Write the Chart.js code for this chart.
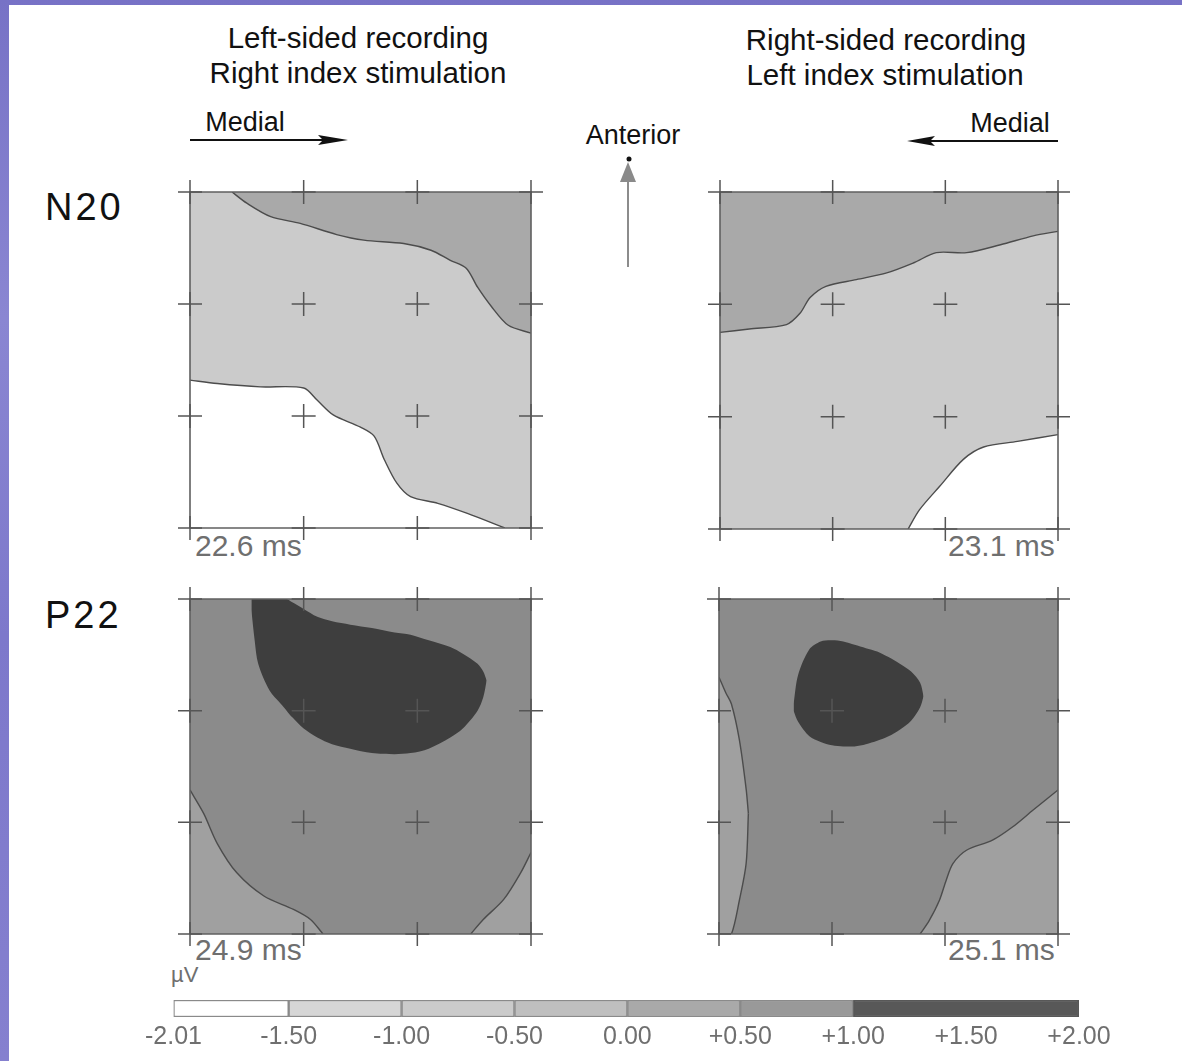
<!DOCTYPE html>
<html>
<head>
<meta charset="utf-8">
<script src="https://cdn.jsdelivr.net/npm/chart.js@4.4.0/dist/chart.umd.min.js"></script>
<style>
  body { margin: 0; width: 1182px; height: 1061px; position: relative; overflow: hidden;
         background: linear-gradient(180deg, #7772c6 0%, #8a86d2 30%, #7d78cb 60%, #8580cf 100%);
         font-family: 'Liberation Sans', Arial, sans-serif; color: #111; }
  #sheet { position: absolute; left: 9px; top: 5px; right: 0; bottom: 0; background: #fff; }
  .t { position: absolute; white-space: nowrap; line-height: 1; }
  .c { transform: translate(-50%, -50%); }
  .head { font-size: 29.5px; }
  .dir { font-size: 27px; }
  .comp { font-size: 38px; letter-spacing: 3px; transform: translateY(-50%); }
  .ms { font-size: 30px; color: #6f6f6f; transform: translateY(-50%); }
  canvas { position: absolute; }
  svg { position: absolute; left: 0; top: 0; }
</style>
</head>
<body>
<div id="sheet"></div>

<div class="t c head" style="left:358px;top:38px">Left-sided recording</div>
<div class="t c head" style="left:358px;top:73px">Right index stimulation</div>
<div class="t c head" style="left:886px;top:40px">Right-sided recording</div>
<div class="t c head" style="left:885px;top:75px">Left index stimulation</div>
<div class="t c dir" style="left:245px;top:122px">Medial</div>
<div class="t c dir" style="left:1010px;top:123px">Medial</div>
<div class="t c dir" style="left:633px;top:135px">Anterior</div>
<div class="t comp" style="left:45px;top:207px">N20</div>
<div class="t comp" style="left:45px;top:615px">P22</div>
<div class="t ms" style="left:195px;top:546px">22.6 ms</div>
<div class="t ms" style="left:948px;top:546px">23.1 ms</div>
<div class="t ms" style="left:195px;top:950px">24.9 ms</div>
<div class="t ms" style="left:948px;top:950px">25.1 ms</div>
<div class="t ms" style="left:171px;top:975px;font-size:22px">µV</div>

<svg width="1182" height="1061">
  <line x1="190" y1="140" x2="330" y2="140" stroke="#111" stroke-width="2"/>
  <polygon points="318,135 348,140 318,145 323,140" fill="#111"/>
  <line x1="1058" y1="141" x2="925" y2="141" stroke="#111" stroke-width="2"/>
  <polygon points="935,136 907,141 935,146 930,141" fill="#111"/>
  <line x1="628" y1="267" x2="628" y2="178" stroke="#8c8c8c" stroke-width="2"/>
  <polygon points="620,182 628,162 636,182" fill="#8a8a8a"/>
  <circle cx="629" cy="159" r="2.5" fill="#111"/>
</svg>

<canvas id="n20L"></canvas>
<canvas id="n20R"></canvas>
<canvas id="p22L"></canvas>
<canvas id="p22R"></canvas>
<canvas id="scale"></canvas>

<script>
// electrode grid (3 x 3 cells, units of electrode spacing)
const gridX = [0, 1, 2, 3];
const gridY = [0, 1, 2, 3];
const frameX = [0, 3, 3, 0, 0];
const frameY = [0, 0, 3, 3, 0];

// N20, left-sided recording: contour lines
const n20LeftTopX = [0.37, 0.50, 0.71, 0.97, 1.29, 1.53, 1.88, 2.12, 2.29, 2.43, 2.53, 2.65, 2.80, 3.0];
const n20LeftTopY = [3.0, 2.90, 2.78, 2.72, 2.62, 2.57, 2.54, 2.48, 2.39, 2.32, 2.15, 1.98, 1.81, 1.74];
const n20LeftLowX = [0, 0.24, 0.62, 1.0, 1.12, 1.26, 1.50, 1.62, 1.71, 1.82, 1.94, 2.18, 2.44, 2.77];
const n20LeftLowY = [1.32, 1.29, 1.26, 1.25, 1.14, 1.01, 0.90, 0.82, 0.61, 0.40, 0.28, 0.22, 0.13, 0];

// N20, right-sided recording
const n20RightTopX = [0, 0.26, 0.59, 0.71, 0.80, 0.94, 1.21, 1.48, 1.72, 1.92, 2.19, 2.49, 2.78, 3.0];
const n20RightTopY = [1.75, 1.78, 1.82, 1.92, 2.06, 2.16, 2.22, 2.28, 2.37, 2.46, 2.46, 2.53, 2.61, 2.65];
const n20RightLowX = [1.67, 1.77, 1.95, 2.16, 2.34, 2.64, 3.0];
const n20RightLowY = [0, 0.17, 0.38, 0.62, 0.73, 0.78, 0.84];

// P22, left-sided recording
const p22LeftPeakX = [0.54, 0.57, 0.6, 0.7, 0.8, 0.85, 0.9, 1.0, 1.12, 1.25, 1.41, 1.6, 1.8, 1.94, 2.1, 2.29, 2.4, 2.53, 2.58, 2.61];
const p22LeftPeakTop = [3, 3, 3, 3, 3, 3, 2.97, 2.91, 2.84, 2.80, 2.77, 2.74, 2.70, 2.68, 2.63, 2.57, 2.51, 2.42, 2.35, 2.27];
const p22LeftPeakLow = [2.9, 2.62, 2.42, 2.18, 2.06, 2.0, 1.94, 1.84, 1.76, 1.70, 1.66, 1.62, 1.61, 1.62, 1.66, 1.76, 1.84, 2.0, 2.12, 2.27];
const p22LeftCornerX = [0, 0.12, 0.24, 0.41, 0.65, 0.91, 1.06, 1.17];
const p22LeftCornerY = [1.29, 1.08, 0.81, 0.55, 0.34, 0.22, 0.13, 0];
const p22LeftEdgeX = [2.47, 2.58, 2.76, 2.91, 3.0];
const p22LeftEdgeY = [0, 0.13, 0.31, 0.55, 0.73];

// P22, right-sided recording
const p22RightPeakX = [0.66, 0.7, 0.8, 0.9, 1.0, 1.1, 1.2, 1.3, 1.4, 1.5, 1.6, 1.7, 1.78, 1.81];
const p22RightPeakTop = [2.06, 2.32, 2.55, 2.62, 2.63, 2.62, 2.59, 2.56, 2.53, 2.48, 2.42, 2.35, 2.25, 2.13];
const p22RightPeakLow = [2.0, 1.90, 1.77, 1.72, 1.69, 1.68, 1.68, 1.70, 1.73, 1.77, 1.83, 1.91, 2.03, 2.13];
const p22RightStripX = [0, 0.06, 0.11, 0.18, 0.24, 0.26];
const p22RightStripTop = [2.30, 2.16, 2.06, 1.74, 1.30, 1.08];
const p22RightStripLow = [0, 0, 0, 0.30, 0.63, 1.08];
const p22RightCornerX = [1.78, 1.86, 1.95, 2.01, 2.07, 2.19, 2.42, 2.60, 2.78, 3.0];
const p22RightCornerY = [0, 0.12, 0.30, 0.48, 0.63, 0.75, 0.84, 0.96, 1.11, 1.29];

// colour scale (µV)
const levelEdges = [-2.01, -1.5, -1.0, -0.5, 0, 0.5, 1.0, 2.0];
const levelColors = ['#ffffff', '#d6d6d6', '#cbcbcb', '#bfbfbf', '#a9a9a9', '#999999', '#585858'];
const scaleTicks = [-2.01, -1.5, -1.0, -0.5, 0, 0.5, 1.0, 1.5, 2.0];
const scaleLabels = ['-2.01', '-1.50', '-1.00', '-0.50', '0.00', '+0.50', '+1.00', '+1.50', '+2.00'];

const C_WHITE = '#ffffff', C_N20 = '#cbcbcb', C_N20_HI = '#a9a9a9';
const C_P22 = '#8b8b8b', C_P22_LO = '#a0a0a0', C_PEAK = '#3e3e3e';
const LINE = '#4c4c4c';
const PAD = 16;

const pts = (xs, ys) => xs.map((x, i) => ({ x: x, y: ys[i] }));

function region(xs, ys, color, fill, order, outline) {
  return {
    data: pts(xs, ys), fill: fill, backgroundColor: color,
    borderColor: outline ? LINE : 'transparent', borderWidth: outline ? 1.4 : 0,
    pointRadius: 0, tension: 0.3, order: order
  };
}

function grid() {
  const cross = [];
  gridX.forEach(x => gridY.forEach(y => cross.push({ x: x, y: y })));
  return [
    { data: pts(frameX, frameY), fill: false, borderColor: '#606060', borderWidth: 1.6,
      pointRadius: 0, tension: 0, clip: false, order: 1 },
    { data: cross, showLine: false, pointStyle: 'cross', pointRadius: 12,
      pointBorderColor: '#555', pointBorderWidth: 1.5, clip: false, order: 0 }
  ];
}

function panel(id, box, layers) {
  const cv = document.getElementById(id);
  cv.width = box.w + 2 * PAD;
  cv.height = box.h + 2 * PAD;
  cv.style.left = (box.x - PAD) + 'px';
  cv.style.top = (box.y - PAD) + 'px';
  return new Chart(cv, {
    type: 'line',
    data: { datasets: layers.concat(grid()) },
    options: {
      responsive: false, animation: false, events: [],
      layout: { padding: PAD },
      plugins: { legend: { display: false }, tooltip: { enabled: false } },
      scales: {
        x: { type: 'linear', min: 0, max: 3, display: false },
        y: { type: 'linear', min: 0, max: 3, display: false }
      }
    }
  });
}

panel('n20L', { x: 190, y: 192, w: 341, h: 336 }, [
  region([0, 3], [3, 3], C_N20, 'start', 5),
  region(n20LeftTopX, n20LeftTopY, C_N20_HI, 'end', 3, true),
  region(n20LeftLowX, n20LeftLowY, C_WHITE, 'start', 3, true)
]);

panel('n20R', { x: 720, y: 192, w: 338, h: 337 }, [
  region([0, 3], [3, 3], C_N20, 'start', 5),
  region(n20RightTopX, n20RightTopY, C_N20_HI, 'end', 3, true),
  region(n20RightLowX, n20RightLowY, C_WHITE, 'start', 3, true)
]);

panel('p22L', { x: 190, y: 599, w: 341, h: 335 }, [
  region([0, 3], [3, 3], C_P22, 'start', 5),
  region(p22LeftCornerX, p22LeftCornerY, C_P22_LO, 'start', 3, true),
  region(p22LeftEdgeX, p22LeftEdgeY, C_P22_LO, 'start', 3, true),
  region(p22LeftPeakX, p22LeftPeakLow, 'transparent', false, 2),
  region(p22LeftPeakX, p22LeftPeakTop, C_PEAK, '-1', 2)
]);

panel('p22R', { x: 719, y: 599, w: 339, h: 335 }, [
  region([0, 3], [3, 3], C_P22, 'start', 5),
  region(p22RightStripX, p22RightStripLow, 'transparent', false, 3, true),
  region(p22RightStripX, p22RightStripTop, C_P22_LO, '-1', 3, true),
  region(p22RightCornerX, p22RightCornerY, C_P22_LO, 'start', 3, true),
  region(p22RightPeakX, p22RightPeakLow, 'transparent', false, 2),
  region(p22RightPeakX, p22RightPeakTop, C_PEAK, '-1', 2)
]);

// colour bar
const sc = document.getElementById('scale');
sc.width = 990; sc.height = 63;
sc.style.left = '130px'; sc.style.top = '994px';
new Chart(sc, {
  type: 'bar',
  data: {
    labels: ['µV'],
    datasets: levelColors.map((c, i) => ({
      data: [[levelEdges[i], levelEdges[i + 1]]],
      backgroundColor: c,
      borderColor: i < levelColors.length - 1 ? '#8a8a8a' : c,
      borderWidth: 1.5, borderSkipped: false,
      barPercentage: 1, categoryPercentage: 1, grouped: false
    }))
  },
  options: {
    indexAxis: 'y', responsive: false, animation: false, events: [],
    layout: { padding: { left: 43.5, right: 41, top: 6, bottom: 0 } },
    plugins: { legend: { display: false }, tooltip: { enabled: false } },
    scales: {
      x: {
        type: 'linear', min: -2.01, max: 2.0,
        afterBuildTicks: s => { s.ticks = scaleTicks.map(v => ({ value: v })); },
        afterFit: s => { s.height = 40; },
        ticks: {
          autoSkip: false, maxRotation: 0, padding: 5, color: '#6f6f6f',
          font: { family: 'Liberation Sans', size: 25 },
          callback: (v, i) => scaleLabels[i]
        },
        grid: { display: false, drawTicks: false }, border: { display: false }
      },
      y: { display: false }
    }
  }
});
</script>
</body>
</html>
